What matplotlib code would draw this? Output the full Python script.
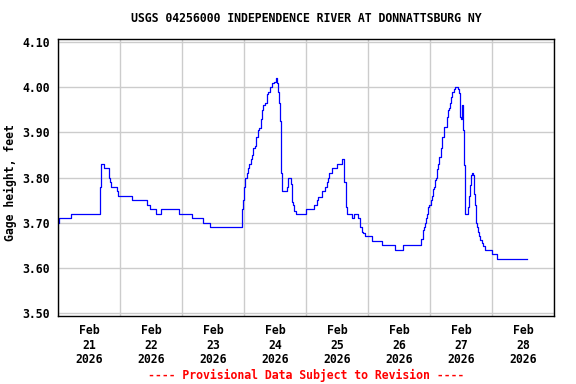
import matplotlib
matplotlib.use("Agg")
import matplotlib.pyplot as plt
from matplotlib.ticker import FixedLocator, NullFormatter

# Datos: horas desde Feb 21 00:00 y altura (ft)
hours = [0.0, 0.4, 4.9, 16.4, 16.6, 17.9, 19.7, 20.0, 20.4, 22.8, 23.2, 28.5,
         34.3, 34.8, 35.6, 37.9, 39.9, 46.8, 51.9, 56.1, 58.8,
         71.1, 71.5, 71.9, 72.4, 73.0, 73.4, 73.9, 74.6, 75.1, 75.6, 76.1, 76.6,
         77.4, 77.9, 78.5, 78.9, 79.5, 80.1, 80.8, 81.4, 82.1, 82.7, 83.7, 84.3,
         84.7, 85.0, 85.5, 85.9, 86.2, 86.6, 86.8, 88.5, 89.2, 90.2, 90.7, 91.1,
         91.5, 92.0, 95.9, 99.2, 100.1, 100.8, 102.1, 103.4, 104.0, 104.4, 104.9,
         106.2, 108.1, 110.1, 110.6, 110.7, 111.4, 111.5, 112.0, 113.8, 114.7,
         116.2, 116.9, 117.6, 118.2, 118.8, 121.7, 125.3, 130.5, 133.7,
         140.4, 141.2, 141.7, 142.1, 142.5, 143.0, 143.3, 143.7, 144.3, 144.7,
         145.3, 145.5, 145.9, 146.3, 146.8, 147.2, 147.6, 148.1, 148.8, 149.5,
         150.5, 150.8, 151.4, 151.7, 152.1, 152.6, 153.3, 153.7, 155.0, 155.3,
         155.7, 156.0, 156.4, 156.6, 156.9, 157.2, 157.4, 157.7, 158.7, 159.1,
         159.5, 159.9, 160.3, 160.6, 161.0, 161.4, 161.8, 162.2, 162.6, 163.0,
         163.4, 164.0, 164.6, 165.3, 167.9, 170.1, 181.7]
gage = [3.70, 3.71, 3.72, 3.78, 3.83, 3.82, 3.80, 3.79, 3.78, 3.77, 3.76, 3.75,
        3.74, 3.74, 3.73, 3.72, 3.73, 3.72, 3.71, 3.70, 3.69,
        3.73, 3.75, 3.78, 3.80, 3.81, 3.82, 3.83, 3.84, 3.85, 3.865, 3.87, 3.89,
        3.905, 3.91, 3.93, 3.95, 3.96, 3.965, 3.985, 3.99, 4.00, 4.01, 4.012, 4.02,
        4.01, 3.99, 3.965, 3.925, 3.81, 3.78, 3.77, 3.78, 3.80, 3.785, 3.745, 3.74,
        3.725, 3.72, 3.73, 3.74, 3.75, 3.756, 3.77, 3.78, 3.79, 3.80, 3.81,
        3.82, 3.83, 3.84, 3.835, 3.79, 3.77, 3.735, 3.72, 3.71, 3.72,
        3.71, 3.69, 3.68, 3.677, 3.67, 3.66, 3.65, 3.64, 3.65,
        3.665, 3.684, 3.69, 3.70, 3.71, 3.72, 3.734, 3.74, 3.75, 3.76,
        3.774, 3.78, 3.794, 3.80, 3.818, 3.83, 3.845, 3.865, 3.89, 3.911,
        3.933, 3.95, 3.955, 3.966, 3.979, 3.99, 3.995, 4.00, 3.995, 3.987,
        3.935, 3.93, 3.96, 3.91, 3.905, 3.828, 3.725, 3.72, 3.735, 3.76,
        3.783, 3.805, 3.81, 3.805, 3.763, 3.739, 3.70, 3.69, 3.679, 3.67,
        3.662, 3.655, 3.649, 3.64, 3.63, 3.62, 3.62]

day_labels = ["Feb\n21\n2026", "Feb\n22\n2026", "Feb\n23\n2026", "Feb\n24\n2026",
              "Feb\n25\n2026", "Feb\n26\n2026", "Feb\n27\n2026", "Feb\n28\n2026"]
y_ticks = [3.50, 3.60, 3.70, 3.80, 3.90, 4.00, 4.10]

font = "DejaVu Sans Mono"
fsize = 8.3

fig = plt.figure(figsize=(5.76, 3.84), dpi=100)
ax = fig.add_axes([0.1007, 0.177, 0.8611, 0.7214])

ax.plot(hours, gage, color="#0000ff", lw=0.9, drawstyle="steps-post", zorder=3)

ax.set_xlim(0, 24 * len(day_labels))
ax.set_ylim(3.4934, 4.1066)

# Lineas de rejilla a medianoche, etiquetas a mediodia
ax.xaxis.set_major_locator(FixedLocator([24 * i for i in range(len(day_labels) + 1)]))
ax.xaxis.set_major_formatter(NullFormatter())
ax.xaxis.set_minor_locator(FixedLocator([24 * i + 12 for i in range(len(day_labels))]))
ax.set_xticklabels(day_labels, minor=True)
ax.set_yticks(y_ticks)
ax.set_yticklabels([f"{t:.2f}" for t in y_ticks])

ax.tick_params(which="both", length=0)
ax.tick_params(axis="x", which="minor", pad=6)
ax.tick_params(axis="y", pad=6)
for lab in ax.get_xticklabels(minor=True) + ax.get_yticklabels():
    lab.set_fontfamily(font)
    lab.set_fontweight("bold")
    lab.set_fontsize(fsize)
for lab in ax.get_xticklabels(minor=True):
    lab.set_linespacing(1.12)

ax.grid(True, which="major", color="#cccccc", lw=1.0, zorder=0)
for s in ax.spines.values():
    s.set_color("black")
    s.set_linewidth(1.0)
    s.set_zorder(4)

ax.set_title("USGS 04256000 INDEPENDENCE RIVER AT DONNATTSBURG NY",
             fontfamily=font, fontweight="bold", fontsize=fsize, pad=12)
fig.text(10 / 576, 1 - 183 / 384, "Gage height, feet", rotation=90,
         fontfamily=font, fontweight="bold", fontsize=fsize,
         ha="center", va="center")

fig.text(0.531, 0.023, "---- Provisional Data Subject to Revision ----",
         color="#ff0000", fontfamily=font, fontweight="bold", fontsize=fsize,
         ha="center", va="center")

fig.savefig("out.png", dpi=100)
